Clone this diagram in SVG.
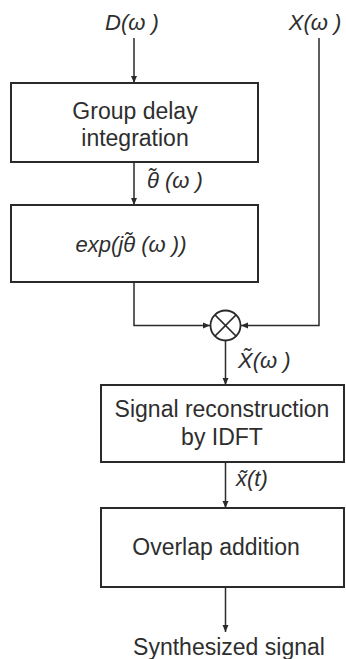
<svg xmlns="http://www.w3.org/2000/svg" width="346" height="659" viewBox="0 0 346 659">
<style>
  .box { fill: none; stroke: #2a2a2a; stroke-width: 2; }
  .ln { fill: none; stroke: #2a2a2a; stroke-width: 1.5; }
  .t { font-family: "Liberation Sans", Arial, sans-serif; font-size: 23px; fill: #2e2e2e; text-anchor: middle; }
  .lab { font-family: "Liberation Sans", Arial, sans-serif; font-size: 22px; font-style: italic; fill: #2e2e2e; }
</style>
<defs>
  <marker id="ah" markerWidth="8" markerHeight="8" refX="7" refY="4" orient="auto" markerUnits="userSpaceOnUse">
    <path d="M0,1 L7,4 L0,7 Z" fill="#2a2a2a"/>
  </marker>
</defs>
<rect width="346" height="659" fill="#ffffff"/>

<g id="connectors">
  <line class="ln" x1="134" y1="38" x2="134" y2="83" marker-end="url(#ah)"/>
  <line class="ln" x1="134" y1="162" x2="134" y2="205" marker-end="url(#ah)"/>
  <polyline class="ln" points="134,282 134,325.5 210,325.5" marker-end="url(#ah)"/>
  <polyline class="ln" points="319,38 319,325.5 241,325.5" marker-end="url(#ah)"/>
  <line class="ln" x1="225.5" y1="341" x2="225.5" y2="385" marker-end="url(#ah)"/>
  <line class="ln" x1="225.5" y1="462" x2="225.5" y2="508" marker-end="url(#ah)"/>
  <line class="ln" x1="225.5" y1="587" x2="225.5" y2="632" marker-end="url(#ah)"/>
</g>

<g id="in-D"><text class="lab" x="132" y="30" text-anchor="middle">D(ω )</text></g>
<g id="in-X"><text class="lab" x="315" y="30" text-anchor="middle">X(ω )</text></g>

<g id="group-delay">
  <rect class="box" x="11" y="83" width="247" height="79"/>
  <text class="t" x="135" y="119">Group delay</text>
  <text class="t" x="135" y="146">integration</text>
</g>

<g id="label-theta"><text class="lab" x="147" y="188">θ̃ (ω )</text></g>

<g id="exp">
  <rect class="box" x="11" y="205" width="247" height="77"/>
  <text class="lab" x="131" y="252" text-anchor="middle">exp(jθ̃ (ω ))</text>
</g>

<g id="multiplier">
  <circle cx="225.5" cy="325.5" r="15" fill="none" stroke="#2a2a2a" stroke-width="1.8"/>
  <line class="ln" x1="214.9" y1="314.9" x2="236.1" y2="336.1"/>
  <line class="ln" x1="236.1" y1="314.9" x2="214.9" y2="336.1"/>
</g>

<g id="label-X"><text class="lab" x="238" y="368">X̃(ω )</text></g>

<g id="idft">
  <rect class="box" x="101" y="385" width="243" height="77"/>
  <text class="t" x="222" y="417">Signal reconstruction</text>
  <text class="t" x="222" y="445">by IDFT</text>
</g>

<g id="label-x"><text class="lab" x="236" y="486">x̃(t)</text></g>

<g id="overlap">
  <rect class="box" x="101" y="508" width="243" height="79"/>
  <text class="t" x="216" y="555">Overlap addition</text>
</g>

<g id="output"><text class="t" x="229" y="655">Synthesized signal</text></g>
</svg>
